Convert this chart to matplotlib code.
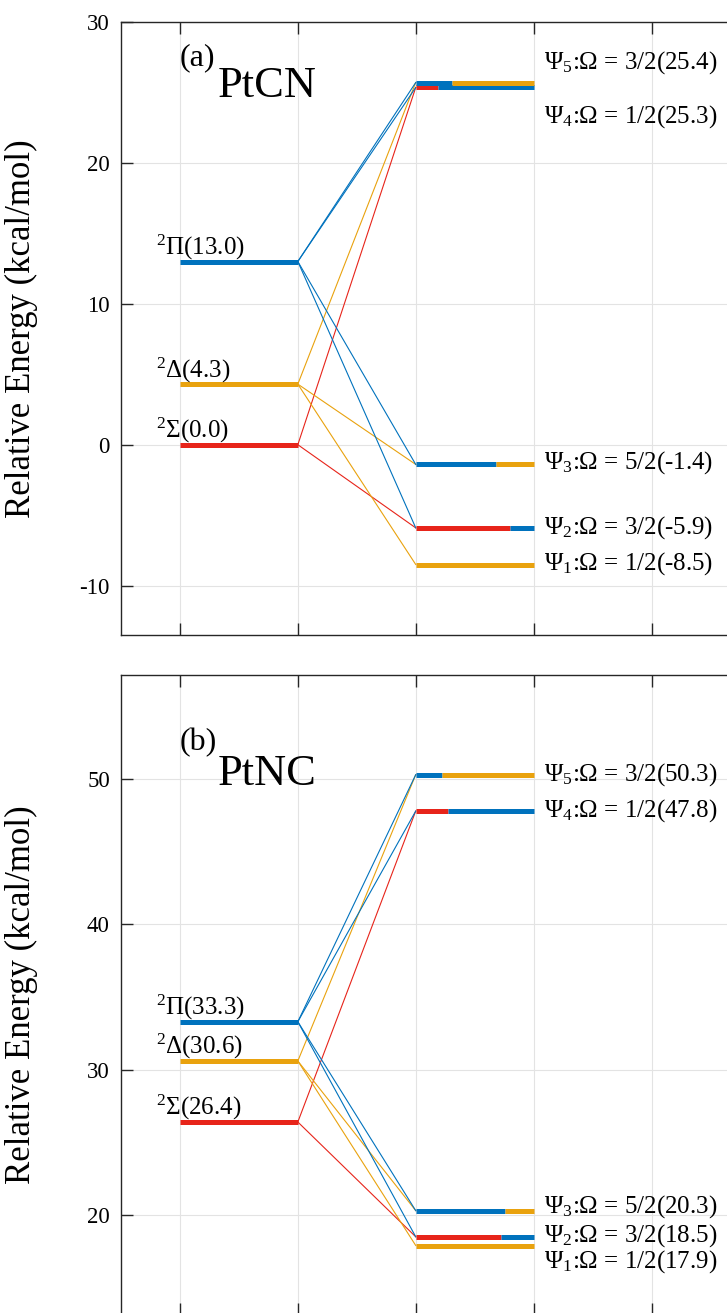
import matplotlib
matplotlib.use("Agg")
import matplotlib.pyplot as plt

plt.rcParams['font.family'] = ['Liberation Serif', 'DejaVu Serif']
plt.rcParams['mathtext.fontset'] = 'custom'
plt.rcParams['mathtext.rm'] = 'Liberation Serif'
plt.rcParams['mathtext.it'] = 'Liberation Serif:italic'

BLUE = '#0072BD'
ORANGE = '#E9A20E'
RED = '#E7241A'

# left-hand Lambda-S states: symbol, energy, colour
state_sym = ['Σ', 'Δ', 'Π']
state_col = [RED, ORANGE, BLUE]
states_a = [0.0, 4.3, 13.0]
states_b = [26.4, 30.6, 33.3]

# spin-orbit states Psi_1..Psi_5
psi_omega = ['1/2', '3/2', '5/2', '1/2', '3/2']
psi_a = [-8.5, -5.9, -1.4, 25.3, 25.4]
psi_b = [17.9, 18.5, 20.3, 47.8, 50.3]
# bar height as drawn (Psi_5 in (a) sits a bit above Psi_4)
psi_a_draw = [-8.5, -5.9, -1.4, 25.35, 25.7]
psi_b_draw = psi_b
# where the first colour of each bar stops, and the two colours
psi_split_a = [4.0, 3.80, 3.68, 3.19, 3.31]
psi_split_b = [4.0, 3.72, 3.76, 3.27, 3.22]
psi_cols = [(ORANGE, ORANGE), (RED, BLUE), (BLUE, ORANGE), (RED, BLUE), (BLUE, ORANGE)]
# which Psi each state feeds (index into psi)
links = {'Σ': [1, 3], 'Δ': [0, 2, 4], 'Π': [1, 2, 3, 4]}

# label heights on the right
lab_a = [-8.4, -5.9, -1.3, 23.3, 27.1]
lab_b = [16.8, 18.6, 20.6, 47.8, 50.3]


def panel(ax, states, psi, psi_draw, split, labs, ylim, yticks, tag, mol, tag_y, mol_y):
    for k, (sym, col) in enumerate(zip(state_sym, state_col)):
        e = states[k]
        for j in links[sym]:
            ax.plot([2, 3], [e, psi_draw[j]], color=col, lw=0.8, zorder=2)
    for k, (sym, col) in enumerate(zip(state_sym, state_col)):
        e = states[k]
        ax.plot([1, 2], [e, e], color=col, lw=3.6, solid_capstyle='butt', zorder=3)
        ax.annotate('$^2$' + sym + '(%.1f)' % e, (0.80, e), xytext=(0, 5.0),
                    textcoords='offset points', fontsize=18, va='baseline', ha='left')
    for j in range(len(psi)):
        y = psi_draw[j]
        c1, c2 = psi_cols[j]
        ax.plot([3, split[j]], [y, y], color=c1, lw=3.6, solid_capstyle='butt', zorder=3)
        if split[j] < 4:
            ax.plot([split[j], 4], [y, y], color=c2, lw=3.6, solid_capstyle='butt', zorder=3)
        ax.text(4.09, labs[j], 'Ψ$_{%d}$:Ω = %s(%.1f)' % (j + 1, psi_omega[j], psi[j]),
                fontsize=18, va='center', ha='left')
    ax.text(1.0, tag_y, tag, fontsize=23, va='baseline')
    ax.text(1.32, mol_y, mol, fontsize=32, va='baseline')

    ax.set_xlim(0.5, 5.64)
    ax.set_ylim(*ylim)
    ax.set_xticks([1, 2, 3, 4, 5])
    ax.set_xticklabels([])
    ax.set_yticks(yticks)
    ax.set_yticklabels([str(v) for v in yticks], fontsize=16.5)
    ax.tick_params(direction='in', length=8.5, width=1, top=True, bottom=True,
                   left=True, right=False, color='#262626', pad=8)
    ax.grid(True, color='#E3E3E3', lw=0.8)
    ax.set_axisbelow(True)
    ax.spines['right'].set_visible(False)
    for s in ['left', 'top', 'bottom']:
        ax.spines[s].set_color('#262626')
        ax.spines[s].set_linewidth(1)
    ax.set_ylabel('Relative Energy (kcal/mol)', fontsize=25)
    ax.yaxis.set_label_coords(-0.137, 0.5)


fig = plt.figure(figsize=(7.27, 13.13), dpi=100)
ax1 = fig.add_axes([0.1664, 0.5164, 0.8336, 0.4669])
ax2 = fig.add_axes([0.1664, -0.0015, 0.8336, 0.4874])

panel(ax1, states_a, psi_a, psi_a_draw, psi_split_a, lab_a, (-13.5, 30), [-10, 0, 10, 20, 30],
      '(a)', 'PtCN', 26.9, 24.7)
panel(ax2, states_b, psi_b, psi_b_draw, psi_split_b, lab_b, (13.12, 57.16), [20, 30, 40, 50],
      '(b)', 'PtNC', 52.0, 49.6)

fig.savefig('out.png', dpi=100)
